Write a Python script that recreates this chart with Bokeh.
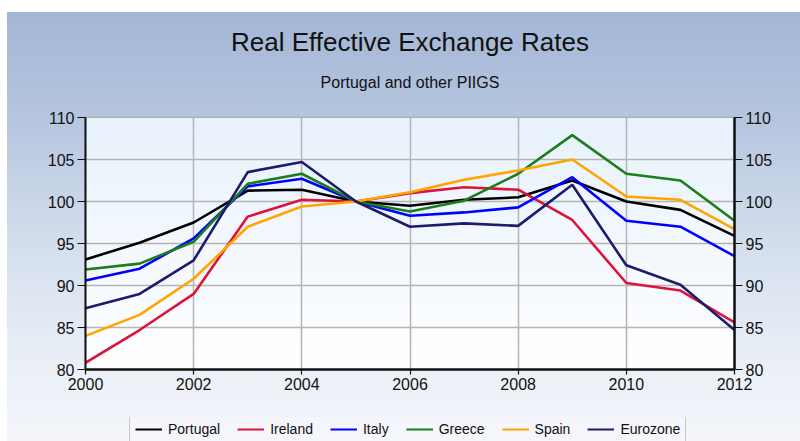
import numpy as np
from bokeh.plotting import figure
from bokeh.layouts import column
from bokeh.models import (ColumnDataSource, LinearAxis, Legend, LegendItem, Title,
                          FixedTicker, Range1d)
from bokeh.embed import file_html
from bokeh.resources import INLINE

years = [2000, 2001, 2002, 2003, 2004, 2005, 2006, 2007, 2008, 2009, 2010, 2011, 2012]
portugal = [93.1, 95.1, 97.5, 101.3, 101.4, 100.0, 99.5, 100.2, 100.5, 102.5, 100.0, 99.0, 95.9]
ireland  = [80.8, 84.7, 89.0, 98.2, 100.2, 100.0, 101.0, 101.7, 101.4, 97.8, 90.3, 89.4, 85.6]
italy    = [90.6, 92.0, 95.6, 101.8, 102.7, 100.0, 98.3, 98.7, 99.3, 102.9, 97.7, 97.0, 93.5]
greece   = [91.9, 92.6, 95.2, 102.1, 103.3, 100.0, 98.8, 100.1, 103.3, 107.9, 103.3, 102.5, 97.7]
spain    = [84.0, 86.5, 90.8, 97.0, 99.4, 100.0, 101.1, 102.6, 103.7, 105.0, 100.6, 100.2, 96.7]
eurozone = [87.3, 89.0, 93.0, 103.5, 104.7, 100.0, 97.0, 97.4, 97.1, 102.0, 92.4, 90.1, 84.7]

series_names = ["Portugal", "Ireland", "Italy", "Greece", "Spain", "Eurozone"]
series_vals = [portugal, ireland, italy, greece, spain, eurozone]
series_colors = ["#000000", "#dc143c", "#0000ff", "#1a7f1a", "#ffa500", "#1c1c6c"]

x_ticks = [2000, 2002, 2004, 2006, 2008, 2010, 2012]
y_ticks = [80, 85, 90, 95, 100, 105, 110]
X0, X1, Y0, Y1 = 2000, 2012, 80, 110

W = 800
p = figure(width=W, height=417, output_backend="svg", toolbar_location=None,
           x_range=Range1d(X0, X1), y_range=Range1d(Y0, Y1),
           min_border_left=85, min_border_right=66, min_border_top=117, min_border_bottom=48)
p.border_fill_color = None
p.background_fill_color = None
p.outline_line_color = "#9a9a9a"
p.outline_line_width = 1.5

# plot-area gradient
n = 64
grad = np.zeros((n, 1), dtype=np.uint32)
view = grad.view(dtype=np.uint8).reshape((n, 1, 4))
for i in range(n):
    t = i / (n - 1)  # 0 bottom -> 1 top
    view[i, 0, 0] = int(255 - t * (255 - 232))
    view[i, 0, 1] = int(255 - t * (255 - 242))
    view[i, 0, 2] = int(255 - t * (255 - 252))
    view[i, 0, 3] = 255
img = p.image_rgba(image=[grad], x=X0, y=Y0, dw=X1 - X0, dh=Y1 - Y0)
img.level = "image"

p.title.text = "Real Effective Exchange Rates"
p.title.text_font = "Liberation Sans"
p.title.text_font_size = "26px"
p.title.text_font_style = "normal"
p.title.text_color = "#111111"
p.title.align = "center"
p.title.standoff = 3
# spacer between the subtitle and the plot frame
p.add_layout(Title(text=" ", text_font_size="10px", standoff=0), "above")
p.add_layout(Title(text="Portugal and other PIIGS", text_font="Liberation Sans",
                   text_font_size="16px", text_font_style="normal", text_color="#111111",
                   align="center", standoff=27), "above")

for name, vals, col in zip(series_names, series_vals, series_colors):
    src = ColumnDataSource(dict(x=years, y=vals))
    p.line("x", "y", source=src, line_color=col, line_width=2.6)

# axes
for ax in [p.xaxis[0], p.yaxis[0]]:
    ax.axis_line_color = "#111111"
    ax.axis_line_width = 2
    ax.major_tick_line_color = "#111111"
    ax.major_tick_line_width = 1.2
    ax.minor_tick_line_color = None
    ax.major_label_text_font = "Liberation Sans"
    ax.major_label_text_font_size = "16px"
    ax.major_label_text_color = "#111111"
p.xaxis.ticker = FixedTicker(ticks=x_ticks)
p.yaxis.ticker = FixedTicker(ticks=y_ticks)
p.xaxis.axis_line_width = 2.5
p.xaxis.major_tick_in = 0
p.xaxis.major_tick_out = 5
p.xaxis.major_label_standoff = 3
p.yaxis.major_tick_in = 0
p.yaxis.major_tick_out = 8
p.yaxis.major_label_standoff = 3

ry = LinearAxis(ticker=FixedTicker(ticks=y_ticks))
ry.axis_line_color = "#111111"
ry.axis_line_width = 2.5
ry.major_tick_line_color = "#111111"
ry.major_tick_line_width = 1.2
ry.minor_tick_line_color = None
ry.major_tick_in = 0
ry.major_tick_out = 8
ry.major_label_standoff = 3
ry.major_label_text_font = "Liberation Sans"
ry.major_label_text_font_size = "16px"
ry.major_label_text_color = "#111111"
p.add_layout(ry, "right")

p.xgrid.ticker = FixedTicker(ticks=x_ticks)
p.ygrid.ticker = FixedTicker(ticks=y_ticks)
p.grid.grid_line_color = "#b4b4b4"
p.grid.grid_line_width = 1.5

# legend strip (bottom of the page, cut off at the window edge like the reference)
p2 = figure(width=W, height=24, output_backend="svg", toolbar_location=None,
            x_range=Range1d(0, 1), y_range=Range1d(0, 1), min_border=0,
            x_axis_type=None, y_axis_type=None)
p2.title.text_font_size = "0px"
p2.title.visible = False
p2.border_fill_color = None
p2.background_fill_color = None
p2.outline_line_color = None
p2.grid.visible = False
items = []
for name, vals, col in zip(series_names, series_vals, series_colors):
    # same series, outside this strip's ranges: only used for the legend swatches
    src = ColumnDataSource(dict(x=years, y=vals))
    r = p2.line("x", "y", source=src, line_color=col, line_width=2)
    items.append(LegendItem(label=name, renderers=[r]))
legend = Legend(items=items, orientation="horizontal", location=(44, -2),
                label_text_font="Liberation Sans", label_text_font_size="14px",
                label_text_color="#111111", glyph_width=27, glyph_height=10,
                label_height=10, label_standoff=6, spacing=17, padding=5, margin=0,
                border_line_color="#9a9a9a", border_line_width=1.5,
                background_fill_color="#f5f5fc", background_fill_alpha=1.0)
p2.add_layout(legend, "center")

layout = column(p, p2, spacing=0,
                styles={"background": "linear-gradient(to right, #ffffff 0px, #ffffff 7px, rgba(255,255,255,0) 7px), "
                                      "linear-gradient(to bottom, #ffffff 0px, #ffffff 12px, #a3b6d6 12px, "
                                      "#b4c4de 25%, #d3deed 55%, #e9eef6 80%, #f3f5f9 100%)"})

open("out.html", "w").write(file_html(layout, INLINE))
